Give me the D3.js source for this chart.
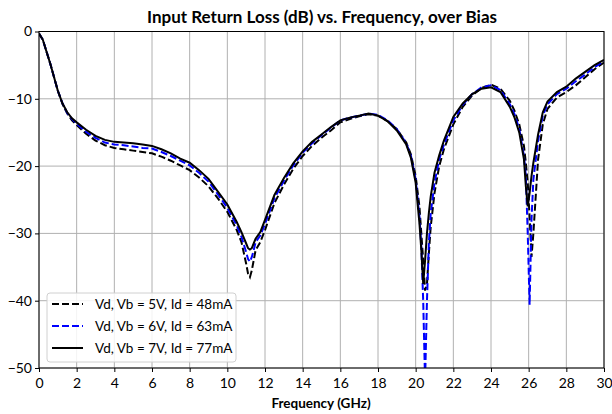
<!DOCTYPE html>
<html><head><meta charset="utf-8">
<script src="https://cdn.jsdelivr.net/npm/d3@7"></script>
<style>body{margin:0;background:#fff}svg{display:block}text{font-family:Lato,"Noto Sans",sans-serif}</style>
</head><body><svg id="c" width="612" height="414"></svg>
<script>
const freq = [0,0.2,0.4,0.6,0.8,1.0,1.25,1.5,1.75,2,2.5,3,3.5,4,4.5,5,5.5,6,6.5,7,7.5,8,8.5,9,9.5,10,10.5,10.75,11,11.1,11.2,11.3,11.4,11.5,11.75,12,12.5,13,13.5,14,14.5,15,15.5,16,16.5,17,17.5,18,18.5,19,19.5,19.75,20,20.2,20.3,20.4,20.5,20.6,20.7,20.8,21,21.25,21.5,22,22.5,23,23.5,24,24.5,25,25.25,25.5,25.75,25.85,25.95,26.05,26.15,26.25,26.5,26.75,27,27.5,28,28.5,29,29.5,30];
const s5V = [-0.3,-1.2,-3.0,-4.8,-6.8,-8.8,-10.8,-12.2,-13.2,-13.9,-15.2,-16.2,-16.9,-17.3,-17.5,-17.7,-17.9,-18.1,-18.6,-19.2,-19.9,-20.6,-21.7,-23.0,-24.8,-26.8,-29.5,-31.3,-34.5,-36.0,-36.5,-35.5,-34.0,-32.5,-31.3,-29.5,-25.5,-22.8,-20.4,-18.5,-17.0,-15.8,-14.7,-13.5,-13.0,-12.6,-12.3,-12.5,-13.3,-14.5,-16.5,-18.3,-21.5,-26.0,-30.0,-34.0,-38.5,-37.5,-33.0,-29.0,-24.0,-20.0,-17.5,-13.8,-11.2,-9.5,-8.4,-7.9,-8.5,-10.3,-11.8,-13.8,-17.0,-19.5,-22.5,-27.5,-33.5,-30.0,-19.0,-13.8,-11.5,-9.8,-9.0,-8.0,-6.8,-5.6,-4.6];
const s6V = [-0.3,-1.2,-3.0,-4.8,-6.8,-8.8,-10.7,-12.1,-13.0,-13.7,-14.9,-15.8,-16.5,-16.8,-16.9,-17.1,-17.3,-17.4,-17.9,-18.5,-19.2,-19.9,-21.0,-22.3,-24.2,-26.2,-28.8,-30.5,-32.8,-33.8,-34.2,-33.5,-32.5,-31.3,-30.3,-28.6,-24.8,-22.2,-19.9,-18.0,-16.6,-15.4,-14.3,-13.2,-12.8,-12.5,-12.2,-12.4,-13.2,-14.5,-16.6,-18.5,-22.0,-27.5,-32.0,-40.0,-52.0,-40.0,-31.5,-27.0,-22.5,-19.0,-16.8,-13.2,-10.9,-9.3,-8.3,-8.0,-8.7,-10.8,-12.3,-14.5,-18.5,-21.5,-30.0,-40.6,-28.0,-22.0,-16.2,-12.5,-10.8,-9.3,-8.5,-7.4,-6.4,-5.3,-4.4];
const s7V = [-0.3,-1.2,-3.0,-4.8,-6.8,-8.8,-10.7,-12.0,-12.9,-13.5,-14.6,-15.5,-16.1,-16.4,-16.5,-16.6,-16.8,-17.0,-17.5,-18.1,-18.9,-19.5,-20.6,-21.9,-23.8,-25.7,-28.3,-29.8,-31.5,-32.2,-32.4,-32.2,-31.5,-30.8,-29.8,-28.0,-24.3,-21.8,-19.6,-17.8,-16.4,-15.3,-14.2,-13.2,-12.8,-12.5,-12.2,-12.5,-13.3,-14.7,-16.8,-18.8,-22.5,-28.5,-32.5,-37.5,-34.0,-30.0,-27.0,-24.5,-21.0,-18.4,-16.2,-12.7,-10.7,-9.3,-8.5,-8.3,-9.0,-11.2,-12.8,-15.0,-19.0,-23.0,-26.0,-24.0,-21.5,-19.5,-15.3,-12.0,-10.4,-9.0,-8.2,-7.0,-6.0,-5.0,-4.2];
const seriesNames = ["Vd, Vb = 5V, Id = 48mA","Vd, Vb = 6V, Id = 63mA","Vd, Vb = 7V, Id = 77mA"];
const seriesColors = ["#000000","#0000ff","#000000"];
const seriesDash = ["7,3","7,3",null];
const xTicks = [0,2,4,6,8,10,12,14,16,18,20,22,24,26,28,30];
const yTicks = [0,-10,-20,-30,-40,-50];
const titleText = "Input Return Loss (dB) vs. Frequency, over Bias";
const xLabel = "Frequency (GHz)";

const svg = d3.select("#c");
const L=39,R=604,T=31.5,B=368;
const x = d3.scaleLinear().domain([0,30]).range([L,R]);
const y = d3.scaleLinear().domain([-50,0]).range([B,T]);

const g = svg.append("g");
g.selectAll("line.vx").data(xTicks).enter().append("line")
 .attr("x1",d=>x(d)).attr("x2",d=>x(d)).attr("y1",T).attr("y2",B)
 .attr("stroke","#b0b0b0").attr("stroke-width",1);
g.selectAll("line.hy").data(yTicks).enter().append("line")
 .attr("y1",d=>y(d)).attr("y2",d=>y(d)).attr("x1",L).attr("x2",R)
 .attr("stroke","#b0b0b0").attr("stroke-width",1);

svg.append("defs").append("clipPath").attr("id","clip").append("rect")
 .attr("x",L).attr("y",T).attr("width",R-L).attr("height",B-T);

const line = d3.line().x((d,i)=>x(freq[i])).y(d=>y(d));
const all=[s5V,s6V,s7V];
all.forEach((s,k)=>{
  svg.append("path").datum(s).attr("d",line).attr("fill","none")
   .attr("stroke",seriesColors[k]).attr("stroke-width",2)
   .attr("stroke-dasharray",seriesDash[k]).attr("clip-path","url(#clip)");
});

svg.append("rect").attr("x",L).attr("y",T).attr("width",R-L).attr("height",B-T)
 .attr("fill","none").attr("stroke","#000").attr("stroke-width",1);

const fmt = d=> d<0 ? "\u2212"+Math.abs(d) : String(d);
const xa = svg.append("g").attr("transform",`translate(0,${B})`)
 .call(d3.axisBottom(x).tickValues(xTicks).tickSize(4).tickFormat(fmt));
const ya = svg.append("g").attr("transform",`translate(${L},0)`)
 .call(d3.axisLeft(y).tickValues(yTicks).tickSize(4).tickFormat(fmt));
[xa,ya].forEach(a=>{a.select(".domain").remove();
 a.selectAll("text").attr("font-family","Lato").attr("font-size",14).attr("fill","#000");
 a.selectAll("line").attr("stroke","#000");});
xa.selectAll("text").attr("dy","0.9em");

svg.append("text").attr("x",322).attr("y",23).attr("text-anchor","middle")
 .attr("font-weight","bold").attr("font-size",17).text(titleText);
svg.append("text").attr("x",321).attr("y",408).attr("text-anchor","middle")
 .attr("font-weight","bold").attr("font-size",13.5).text(xLabel);

const lg = svg.append("g");
lg.append("rect").attr("x",47).attr("y",293).attr("width",189).attr("height",69).attr("rx",3)
 .attr("fill","#fff").attr("fill-opacity",0.85).attr("stroke","#d0d0d0");
seriesNames.forEach((n,k)=>{
  const yy=304+k*22;
  lg.append("line").attr("x1",52).attr("x2",83).attr("y1",yy).attr("y2",yy)
   .attr("stroke",seriesColors[k]).attr("stroke-width",2).attr("stroke-dasharray",seriesDash[k]);
  lg.append("text").attr("x",95).attr("y",yy).attr("dy","0.35em").attr("font-size",13.5).text(n);
});
</script></body></html>
